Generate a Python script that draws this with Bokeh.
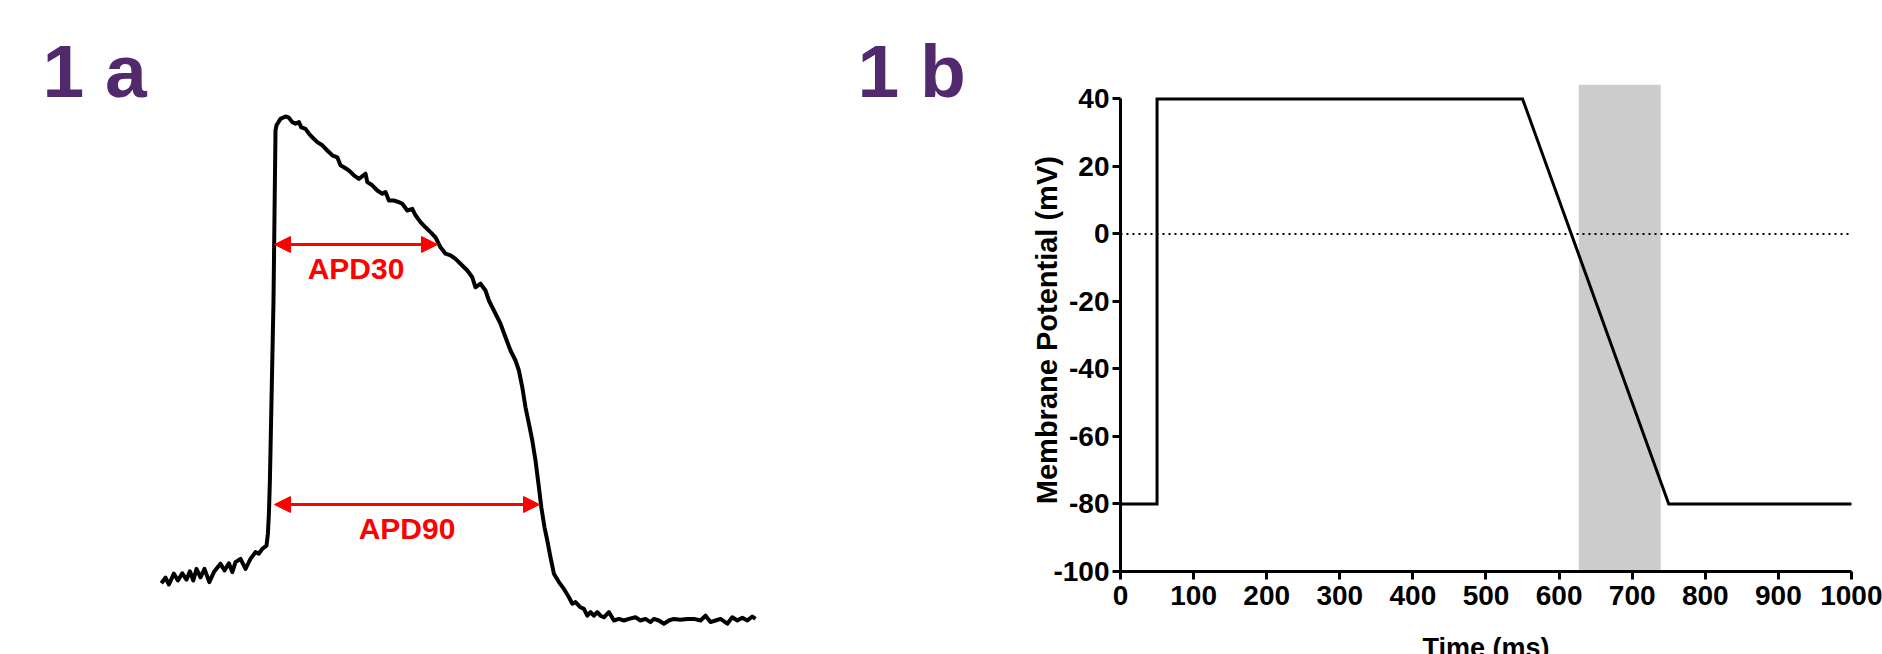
import math
from bokeh.plotting import figure
from bokeh.models import (Range1d, Label, Arrow, NormalHead, BoxAnnotation, FixedTicker)
from bokeh.embed import file_html
from bokeh.resources import INLINE

# ---------------- data: panel 1a (action potential trace, ms / mV) ----------------
ap_time = [0.4, 2.5, 4.2, 6.7, 8.7, 10.9, 13.0, 14.7, 16.4, 18.0, 20.0, 22.0, 24.4, 26.7,
           30.0, 32.0, 34.2, 35.9, 37.5, 40.0, 42.5, 45.0, 47.5, 49.2, 50.9, 53.0, 53.7,
           54.2, 54.7, 56.5, 57.5, 58.0, 60.0, 62.5, 64.2, 65.9, 67.5, 69.2, 70.4, 72.5,
           74.2, 75.9, 78.4, 80.9, 83.4, 85.9, 88.4, 90.0, 91.7, 94.2, 96.7, 99.2, 102.5,
           103.4, 105.9, 108.4, 110.9, 112.5, 114.2, 116.7, 119.2, 120.9, 123.4, 125.9,
           127.5, 130.0, 132.5, 135.0, 137.5, 140.0, 142.5, 145.0, 147.5, 150.0, 153.4,
           155.9, 157.5, 160.0, 162.5, 164.2, 166.7, 170.0, 172.5, 175.0, 177.5, 179.2,
           180.9, 182.5, 184.2, 185.9, 187.5, 189.2, 190.4, 192.0, 193.4, 195.0, 196.7,
           199.2, 201.7, 204.2, 205.9, 207.5, 210.0, 211.7, 213.4, 215.0, 216.7, 218.4,
           220.0, 221.7, 224.2, 226.7, 229.2, 231.7, 234.2, 237.5, 240.0, 242.5, 245.0,
           246.7, 249.2, 251.7, 254.2, 256.7, 260.0, 263.4, 266.7, 270.0, 272.5, 275.0,
           277.5, 280.0, 283.4, 285.9, 288.4, 290.9, 293.4, 295.9, 297.5]
ap_voltage = [-80.2, -78.8, -80.5, -77.8, -79.5, -77.7, -79.3, -77.2, -79.5, -76.6, -78.7,
              -76.6, -79.9, -77.4, -75.3, -77.0, -75.2, -77.4, -74.9, -74.1, -76.6, -74.1,
              -72.4, -72.8, -71.6, -70.8, -67.8, -62.8, -54.5, -9.5, 33.0, 34.3, 35.9, 36.5,
              36.2, 35.1, 34.7, 35.1, 33.8, 33.4, 32.2, 31.3, 30.1, 29.3, 28.0, 26.8, 26.3,
              24.3, 23.8, 23.0, 21.8, 20.9, 22.2, 20.1, 19.3, 18.0, 17.2, 17.6, 15.5, 15.5,
              15.1, 14.7, 13.0, 13.4, 11.8, 10.1, 8.8, 7.6, 6.3, 3.8, 2.2, 1.8, 0.9, -0.3,
              -2.0, -3.7, -6.2, -5.3, -7.0, -9.5, -12.0, -15.3, -18.7, -22.0, -24.5, -27.0,
              -31.2, -36.2, -40.3, -44.5, -49.5, -56.2, -61.2, -66.2, -69.5, -73.7, -77.8,
              -79.9, -81.6, -83.7, -85.3, -84.9, -86.2, -86.6, -88.3, -87.4, -88.3, -87.4,
              -88.3, -88.7, -87.4, -89.5, -89.1, -89.5, -89.1, -88.7, -89.5, -89.1, -89.9,
              -89.1, -89.5, -90.3, -89.5, -89.1, -89.3, -89.1, -89.1, -89.5, -88.3, -89.9,
              -89.5, -89.1, -90.3, -88.7, -89.5, -88.8, -89.5, -88.5, -89.1]

apd_labels = ["APD30", "APD90"]
apd_level = [4.5, -60.5]          # mV at which the duration is measured
apd_start = [57.0, 57.0]          # ms
apd_end = [138.5, 189.5]          # ms

# ---------------- data: panel 1b (voltage protocol) ----------------
protocol_time = [0, 50, 50, 550, 750, 1000]
protocol_voltage = [-80, -80, 40, 40, -80, -80]
window_start, window_end = 627, 739          # shaded window (ms)
zero_line_time = [0, 1000]
zero_line_voltage = [0, 0]
x_ticks = [0, 100, 200, 300, 400, 500, 600, 700, 800, 900, 1000]
y_ticks = [-100, -80, -60, -40, -20, 0, 20, 40]

PURPLE = "#53296e"
FONT = "Liberation Sans"

# one canvas; panel 1b uses the main ranges, panel 1a uses extra ranges
p = figure(width=1882, height=654, output_backend="svg", toolbar_location=None,
           x_range=Range1d(-1532.15, 1042.41), y_range=Range1d(-124.59, 69.16),
           min_border=0, outline_line_color=None)
p.grid.visible = False
p.extra_x_ranges = {"ap_t": Range1d(-80, 861)}
p.extra_y_ranges = {"ap_v": Range1d(-98, 65.5)}

# ---------------- panel 1a ----------------
p.line(ap_time, ap_voltage, line_color="black", line_width=4, line_join="round",
       x_range_name="ap_t", y_range_name="ap_v")

for lab, lv, s, e in zip(apd_labels, apd_level, apd_start, apd_end):
    p.add_layout(Arrow(x_start=s, y_start=lv, x_end=e, y_end=lv,
                       x_range_name="ap_t", y_range_name="ap_v",
                       line_color="#ff0000", line_width=3,
                       start=NormalHead(size=16, fill_color="#ff0000", line_color="#ff0000", line_width=1),
                       end=NormalHead(size=16, fill_color="#ff0000", line_color="#ff0000", line_width=1)))
    p.add_layout(Label(x=(s + e) / 2, y=lv, y_offset=-24, text=lab, text_align="center",
                       x_range_name="ap_t", y_range_name="ap_v",
                       text_baseline="middle", text_color="#ff0000", text_font=FONT,
                       text_font_style="bold", text_font_size="30px"))

p.add_layout(Label(x=-59, y=48.0, text="1 a", text_align="left", text_baseline="middle",
                   x_range_name="ap_t", y_range_name="ap_v",
                   text_color=PURPLE, text_font=FONT, text_font_style="bold",
                   text_font_size="75px"))

# ---------------- panel 1b ----------------
p.add_layout(BoxAnnotation(left=window_start, right=window_end, bottom=-100, top=44.2,
                           fill_color="#cccccc", fill_alpha=1.0, line_color=None,
                           level="underlay"))
p.line(zero_line_time, zero_line_voltage, line_color="black", line_width=2, line_dash="2 4")
p.line(protocol_time, protocol_voltage, line_color="black", line_width=3, line_join="miter")

xa = p.xaxis[0]
ya = p.yaxis[0]
for ax in (xa, ya):
    ax.axis_line_width = 3
    ax.axis_line_color = "black"
    ax.major_tick_line_width = 3
    ax.major_tick_line_color = "black"
    ax.major_tick_out = 8
    ax.major_tick_in = 0
    ax.minor_tick_line_color = None
    ax.major_label_text_font = FONT
    ax.major_label_text_font_style = "bold"
    ax.major_label_text_font_size = "28px"
    ax.major_label_text_color = "black"
xa.ticker = FixedTicker(ticks=x_ticks)
ya.ticker = FixedTicker(ticks=y_ticks)
xa.major_label_overrides = {t: str(t) for t in x_ticks}
ya.major_label_overrides = {t: str(t) for t in y_ticks}
xa.fixed_location = -100
ya.fixed_location = 0
xa.bounds = (0, 1000)
ya.bounds = (-100, 40)
xa.major_label_standoff = 7
ya.major_label_standoff = 3

p.add_layout(Label(x=-101, y=-28.5, text="Membrane Potential (mV)", angle=math.pi / 2,
                   text_align="center", text_baseline="middle", text_color="black",
                   text_font=FONT, text_font_style="bold", text_font_size="29px"))
p.add_layout(Label(x=500, y=-118.3, text="Time (ms)", text_align="center",
                   text_baseline="top", text_color="black", text_font=FONT,
                   text_font_style="bold", text_font_size="27px"))
p.add_layout(Label(x=-359.8, y=48.42, text="1 b", text_align="left", text_baseline="middle",
                   text_color=PURPLE, text_font=FONT, text_font_style="bold",
                   text_font_size="75px"))

open("out.html", "w").write(file_html(p, INLINE))
